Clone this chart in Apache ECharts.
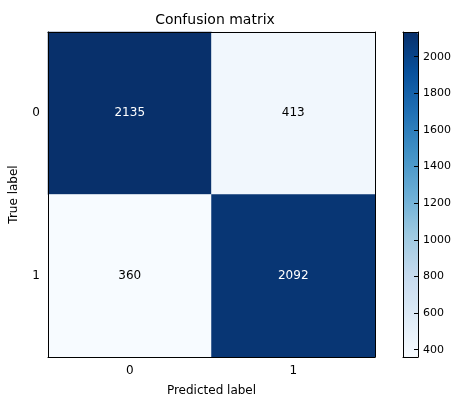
<!DOCTYPE html>
<html><head><meta charset="utf-8">
<script src="https://cdn.jsdelivr.net/npm/echarts@6/dist/echarts.min.js"></script>
<style>html,body{margin:0;padding:0;background:#fff}#c{width:471px;height:411px}</style>
</head><body><div id="c"></div>
<script>
const predLabels = ['0','1'];
const trueLabels = ['1','0']; // bottom to top
const matrix = [[2135, 413],[360, 2092]]; // rows: true 0, true 1
const cbTicks = [400,600,800,1000,1200,1400,1600,1800,2000];
const vmin = 360, vmax = 2135;
const blues = ['#f7fbff','#deebf7','#c6dbef','#9ecae1','#6baed6','#4292c6','#2171b5','#08519c','#08306b'];
const font = 'DejaVu Sans';
const data = [];
for (let t = 0; t < 2; t++) for (let p = 0; p < 2; p++) {
  const v = matrix[t][p];
  data.push({value:[p, trueLabels.indexOf(String(t)), v], label:{color: v > vmax/2 ? '#fff' : '#000'}});
}
const chart = echarts.init(document.getElementById('c'));
const ax = {axisLine:{show:true,onZero:false,lineStyle:{color:'#000'}}, splitLine:{show:false}, zlevel:1};
const cbx = {min:0, max:1};
const tk = {inside:true, alignWithLabel:true, length:5, lineStyle:{color:'#000'}};
chart.setOption({
  animation:false,
  textStyle:{fontFamily:font},
  title:{text:'Confusion matrix', left:210, top:8, textAlign:'center', textStyle:{fontFamily:font,fontSize:14,fontWeight:'normal',color:'#000'}},
  grid:[{left:45, top:32, width:330, height:325},{left:403, top:32, width:15, height:325}],
  xAxis:[
    Object.assign({type:'category', data:predLabels, gridIndex:0, position:'bottom', name:'Predicted label', nameLocation:'middle', nameGap:28, nameTextStyle:{fontSize:12,color:'#000',fontFamily:font},
      axisTick:tk, axisLabel:{color:'#000',fontSize:12,margin:8}}, ax),
    Object.assign({type:'category', data:predLabels, gridIndex:0, position:'top', axisTick:tk, axisLabel:{show:false}}, ax),
    Object.assign({type:'value', gridIndex:1, position:'bottom', axisTick:{show:false}, axisLabel:{show:false}}, cbx, ax),
    Object.assign({type:'value', gridIndex:1, position:'top', axisTick:{show:false}, axisLabel:{show:false}}, cbx, ax)
  ],
  yAxis:[
    Object.assign({type:'category', data:trueLabels, gridIndex:0, position:'left', name:'True label', nameLocation:'middle', nameGap:28, nameTextStyle:{fontSize:12,color:'#000',fontFamily:font},
      axisTick:tk, axisLabel:{color:'#000',fontSize:12,margin:8}}, ax),
    Object.assign({type:'category', data:trueLabels, gridIndex:0, position:'right', axisTick:tk, axisLabel:{show:false}}, ax),
    Object.assign({type:'value', gridIndex:1, position:'right', min:vmin, max:vmax,
      axisTick:{inside:true, length:4, customValues:cbTicks, lineStyle:{color:'#000'}},
      axisLabel:{customValues:cbTicks, color:'#000', fontSize:11, margin:5, formatter:v=>String(v)}}, ax),
    Object.assign({type:'value', gridIndex:1, position:'left', min:vmin, max:vmax, axisTick:{show:false}, axisLabel:{show:false}}, ax)
  ],
  visualMap:{type:'continuous', min:vmin, max:vmax, seriesIndex:0, left:403, top:32, itemWidth:15, itemHeight:325,
    calculable:false, text:['',''], showLabel:false, inRange:{color:blues}, z:1, padding:0},
  series:[{type:'heatmap', xAxisIndex:0, yAxisIndex:0, data:data,
    label:{show:true, fontSize:12, fontFamily:font}, itemStyle:{borderWidth:0}, emphasis:{disabled:true}}]
});
</script></body></html>
